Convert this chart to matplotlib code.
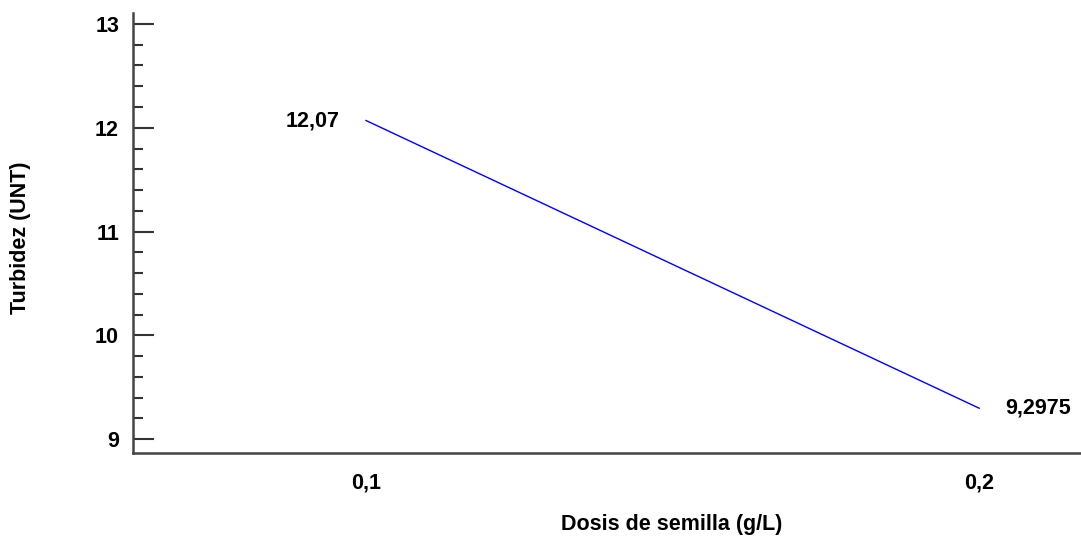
import numpy as np
import matplotlib.pyplot as plt
from matplotlib.ticker import MultipleLocator, FixedLocator

plt.rcParams["font.family"] = ["Liberation Sans", "DejaVu Sans"]

# datos
dosis = [0.1, 0.2]
turbidez = [12.07, 9.2975]
etiquetas = ["12,07", "9,2975"]
x_ticks = [0.1, 0.2]
x_ticklabels = ["0,1", "0,2"]
y_ticks = [9, 10, 11, 12, 13]

fs = 15.5

fig = plt.figure(figsize=(10.81, 5.41), dpi=100)
ax = fig.add_axes([0.123, 0.163, 0.877, 0.813])

ax.plot(dosis, turbidez, color="#0000ff", lw=1)

ax.annotate(etiquetas[0], (dosis[0], turbidez[0]), xytext=(-26, 0),
            textcoords="offset pixels", ha="right", va="center",
            fontsize=fs, fontweight="bold")
ax.annotate(etiquetas[1], (dosis[1], turbidez[1]), xytext=(26, 0),
            textcoords="offset pixels", ha="left", va="center",
            fontsize=fs, fontweight="bold")

ax.set_xlim(0.062, 0.2166)
ax.set_ylim(8.868, 13.106)

ax.xaxis.set_major_locator(FixedLocator(x_ticks))
ax.set_xticklabels(x_ticklabels)
ax.yaxis.set_major_locator(FixedLocator(y_ticks))
ax.yaxis.set_minor_locator(MultipleLocator(0.2))

ax.tick_params(axis="x", length=0, pad=14, labelsize=fs)
ax.tick_params(axis="y", which="major", direction="in", length=15,
               width=1.5, color="#333333", labelsize=fs, pad=10)
ax.tick_params(axis="y", which="minor", direction="in", length=7,
               width=1.5, color="#333333")
for lab in ax.get_xticklabels() + ax.get_yticklabels():
    lab.set_fontweight("bold")

for s in ["top", "right"]:
    ax.spines[s].set_visible(False)
for s in ["left", "bottom"]:
    ax.spines[s].set_linewidth(1.8)
    ax.spines[s].set_color("#444444")

ax.set_xlabel("Dosis de semilla (g/L)", fontsize=fs, fontweight="bold",
              va="center")
ax.xaxis.set_label_coords(0.568, -0.163)
ax.set_ylabel("Turbidez (UNT)", fontsize=fs, fontweight="bold", va="center")
ax.yaxis.set_label_coords(-0.119, 0.488)

fig.savefig("out.png", dpi=100)
